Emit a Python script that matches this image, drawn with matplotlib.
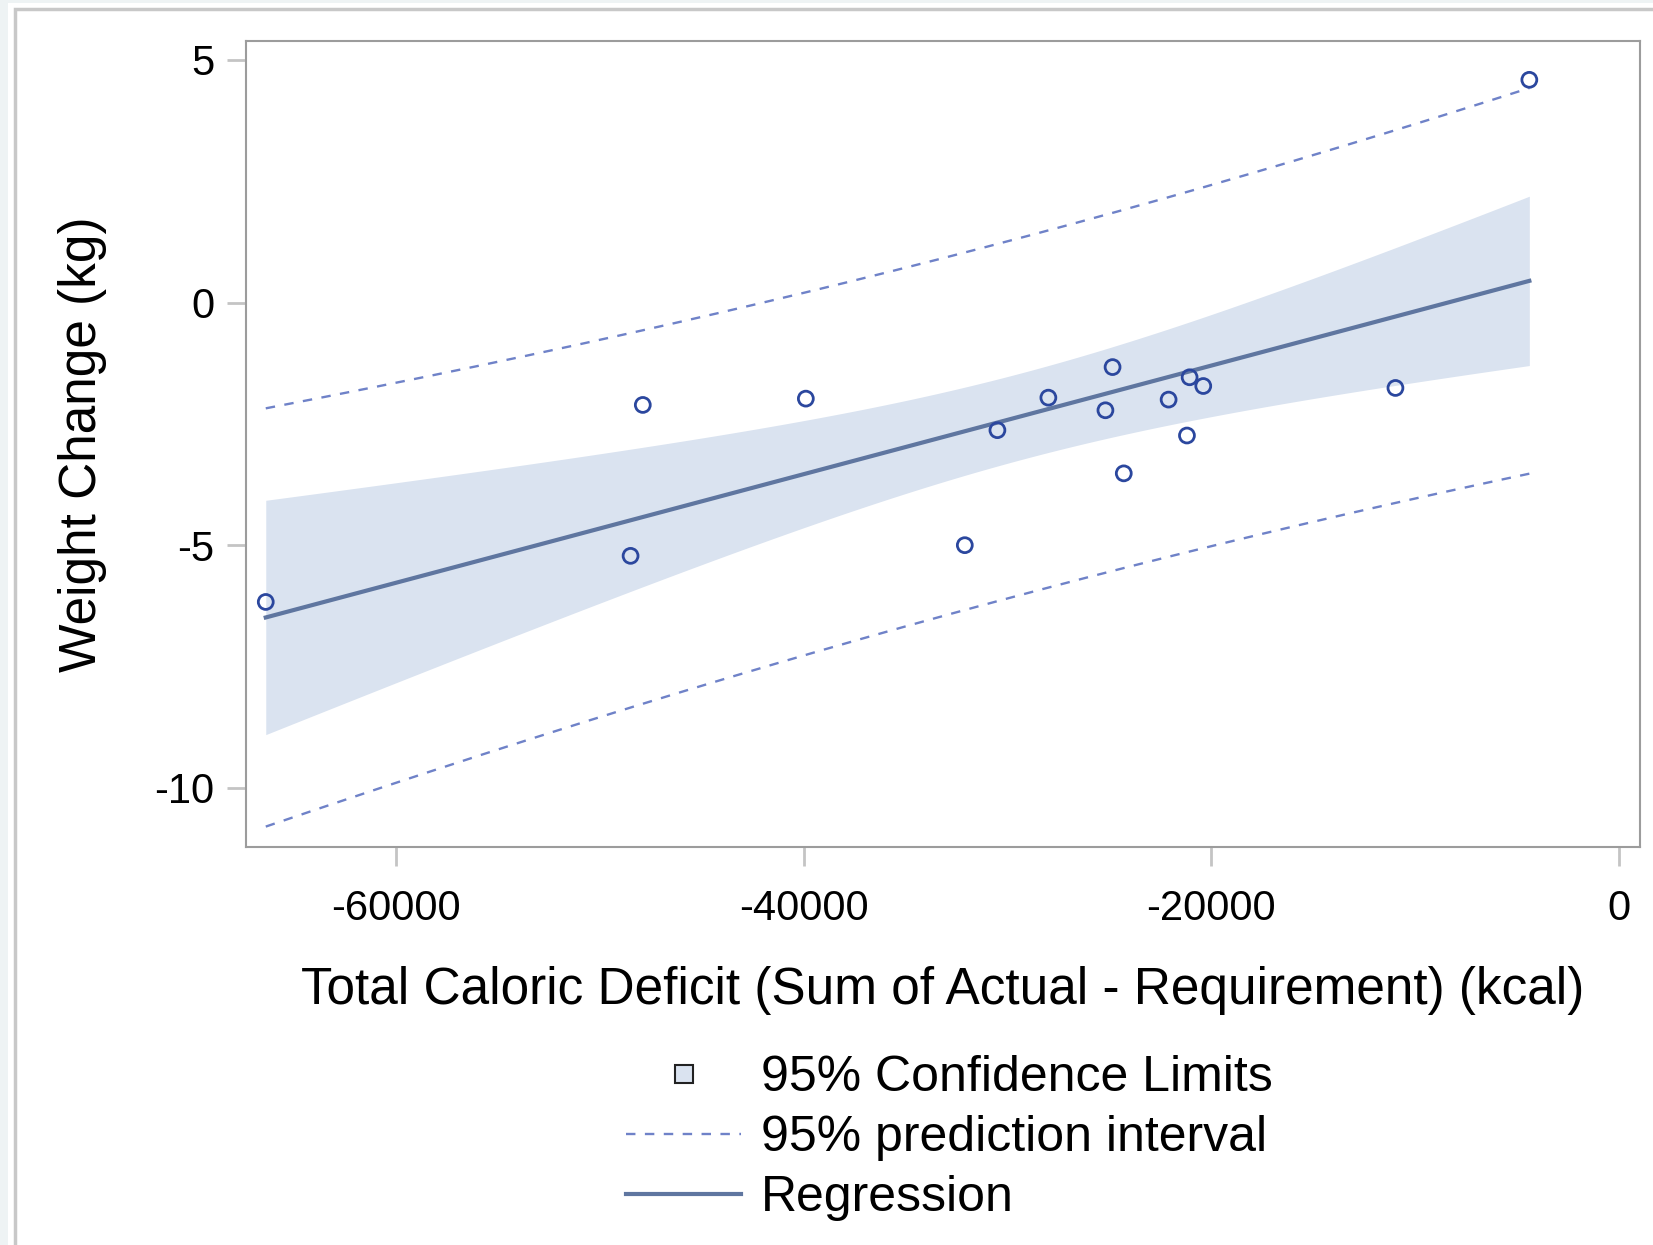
import numpy as np
import matplotlib
matplotlib.use("Agg")
import matplotlib.pyplot as plt
from matplotlib.lines import Line2D
from matplotlib.patches import Rectangle

plt.rcParams['font.family'] = ['Liberation Sans', 'DejaVu Sans']
plt.rcParams['axes.unicode_minus'] = False

deficit = [-66400, -48500, -47900, -39900, -32100, -30500, -28000, -25200,
           -24850, -24300, -22100, -21200, -21070, -20400, -10970, -4400]
weight_change = [-6.17, -5.22, -2.11, -1.98, -5.00, -2.63, -1.96, -2.22,
                 -1.33, -3.52, -2.00, -2.74, -1.54, -1.72, -1.76, 4.59]

x_ticks = [-60000, -40000, -20000, 0]
y_ticks = [-10, -5, 0, 5]
legend_labels = ["95% Confidence Limits", "95% prediction interval", "Regression"]
T_CRIT = 2.145  # t(0.975, df=14)

FILL = '#dae3f0'
REG = '#5f76a0'
PRED = '#6f82c8'
MARK = '#2b479e'
TICK_GRAY = '#c4c4c4'
SPINE_GRAY = '#9c9c9c'


def fit_bands(x, y, grid):
    x = np.asarray(x, float)
    y = np.asarray(y, float)
    n = len(x)
    slope, icpt = np.polyfit(x, y, 1)
    resid = y - (slope * x + icpt)
    s = np.sqrt(np.sum(resid ** 2) / (n - 2))
    sxx = np.sum((x - x.mean()) ** 2)
    yhat = slope * grid + icpt
    lev = 1.0 / n + (grid - x.mean()) ** 2 / sxx
    ci = T_CRIT * s * np.sqrt(lev)
    pi = T_CRIT * s * np.sqrt(1 + lev)
    return yhat, ci, pi


fig = plt.figure(figsize=(16.53, 12.45), dpi=100, facecolor='#eef3f4')

# page frame behind the graph
fig.patches.append(Rectangle((8 / 1653, 0), 1, 1 - 3 / 1245, transform=fig.transFigure,
                             facecolor='white', edgecolor='none', zorder=-3))
fig.patches.append(Rectangle((15 / 1653, -0.01), 1, 1 - 9 / 1245 + 0.01,
                             transform=fig.transFigure, facecolor='none',
                             edgecolor='#c8c8c8', linewidth=2.5, zorder=-2))

ax = fig.add_axes([246 / 1653, 1 - 847 / 1245, (1640 - 246) / 1653, (847 - 41) / 1245])

grid = np.linspace(min(deficit), max(deficit), 200)
yhat, ci, pi = fit_bands(deficit, weight_change, grid)

ax.fill_between(grid, yhat - ci, yhat + ci, color=FILL, linewidth=0, zorder=1)
ax.plot(grid, yhat + pi, color=PRED, lw=1.7, dashes=(4, 4), zorder=2)
ax.plot(grid, yhat - pi, color=PRED, lw=1.7, dashes=(4, 4), zorder=2)
ax.plot(grid, yhat, color=REG, lw=3.0, zorder=3)
ax.scatter(deficit, weight_change, s=115, facecolors='none', edgecolors=MARK,
           linewidths=2.0, zorder=4)

ax.set_xlim(-67370, 1030)
ax.set_ylim(-11.22, 5.39)
ax.set_xticks(x_ticks)
ax.set_yticks(y_ticks)
ax.tick_params(axis='both', length=14, width=2, color=TICK_GRAY, labelsize=30)
ax.tick_params(axis='x', pad=16)
ax.tick_params(axis='y', pad=9)
for sp in ax.spines.values():
    sp.set_color(SPINE_GRAY)
    sp.set_linewidth(1.5)

ax.set_xlabel("Total Caloric Deficit (Sum of Actual - Requirement) (kcal)", fontsize=37)
ax.set_ylabel("Weight Change (kg)", fontsize=37)
ax.xaxis.set_label_coords(0.5, -0.148)
ax.yaxis.set_label_coords(-0.10, 0.5)

handles = [
    Line2D([], [], linestyle='none', marker='s', markersize=13,
           markerfacecolor=FILL, markeredgecolor='#222222', markeredgewidth=1.5),
    Line2D([], [], color=PRED, lw=1.7, dashes=(4, 4)),
    Line2D([], [], color=REG, lw=3.0),
]
fig.legend(handles, legend_labels, loc='upper left',
           bbox_to_anchor=(601 / 1653, 1 - 1030 / 1245), frameon=False,
           fontsize=36, handlelength=2.3, handletextpad=0.4, labelspacing=0.28,
           borderpad=0)

fig.savefig("out.png", dpi=100, facecolor=fig.get_facecolor())
